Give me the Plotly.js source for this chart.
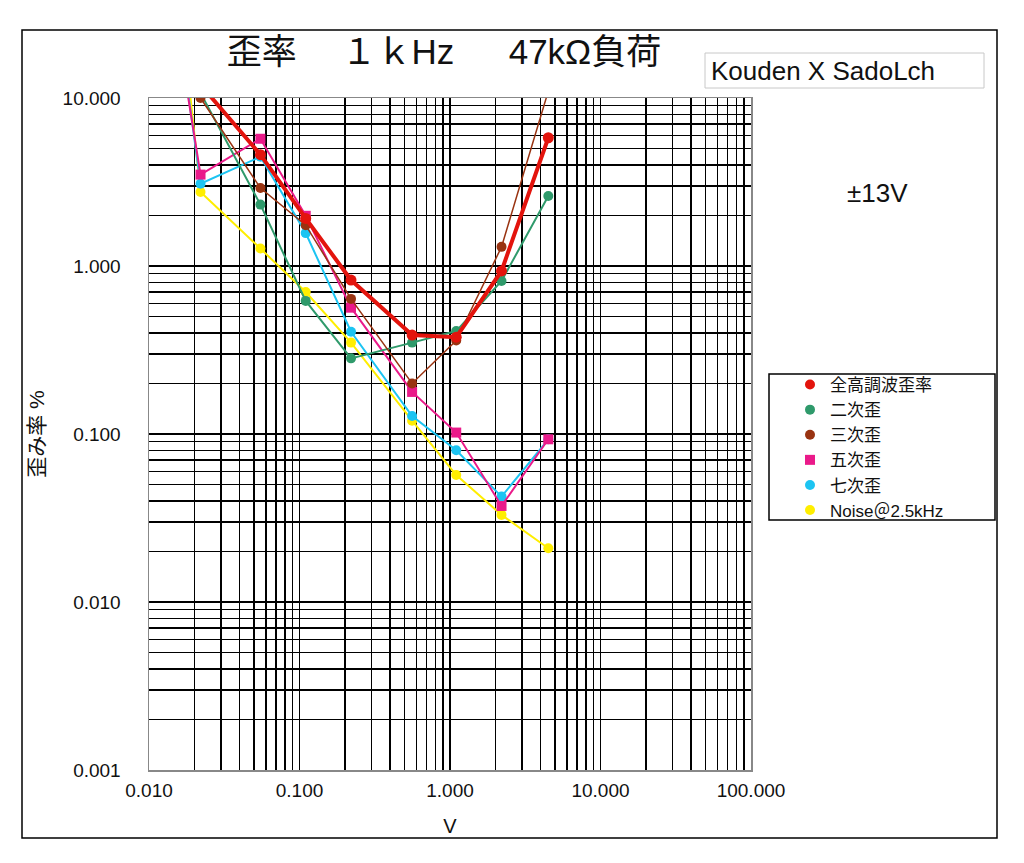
<!DOCTYPE html>
<html>
<head>
<meta charset="utf-8">
<script src="https://cdn.plot.ly/plotly-3.0.1.min.js"></script>
<style>
html,body{margin:0;padding:0;background:#fff;}
#chart{width:1024px;height:863px;}
</style>
</head>
<body>
<div id="chart"></div>
<script>
// ---- data ----
const voltage = [0.011, 0.022, 0.055, 0.11, 0.22, 0.56, 1.1, 2.2, 4.5];
const thd      = [null, 12.0, 4.60, 1.92, 0.825, 0.388, 0.377, 0.934, 5.80];
const second   = [null, 10.7, 2.32, 0.62, 0.282, 0.350, 0.410, 0.814, 2.61];
const third    = [null, 10.0, 2.91, 1.75, 0.637, 0.200, 0.360, 1.30, 11.0];
const fifth    = [170, 3.50, 5.72, 1.99, 0.565, 0.178, 0.102, 0.0373, 0.093];
const seventh  = [290, 3.09, 4.47, 1.57, 0.406, 0.128, 0.080, 0.0424, 0.093];
const noise    = [950, 2.76, 1.27, 0.70, 0.350, 0.120, 0.057, 0.033, 0.0209];

const seriesNames = ['全高調波歪率', '二次歪', '三次歪', '五次歪', '七次歪', 'Noise＠2.5kHz'];
const seriesColors = ['#e3140d', '#2f9a6b', '#993311', '#ea1a8a', '#1cc4f2', '#ffee00'];

const xTickVals = [0.01, 0.1, 1, 10, 100];
const xTickText = ['0.010', '0.100', '1.000', '10.000', '100.000'];
const yTickVals = [0.001, 0.01, 0.1, 1, 10];
const yTickText = ['0.001', '0.010', '0.100', '1.000', '10.000'];

const titleText = '歪率　\u00a0１ｋHz　\u00a0\u00a047kΩ負荷';
const xTitle = 'V';
const yTitle = '歪み率 %';
const boxText = 'Kouden X SadoLch';
const supplyText = '±13V';

// minor grid positions (2..9 in each decade)
function minorVals(lo, hi) {
  const out = [];
  for (let e = lo; e < hi; e++) {
    for (let m = 2; m <= 9; m++) out.push(m * Math.pow(10, e));
  }
  return out;
}

const FONT = 'Liberation Sans, Arial, "Noto Sans CJK JP", sans-serif';

const values = [thd, second, third, fifth, seventh, noise];
const widths = [4, 2, 1.5, 2, 2, 2];
const symbols = ['circle', 'circle', 'circle', 'square', 'circle', 'circle'];
const sizes = [11, 10, 10, 10, 10, 10];

// drawing order: yellow, cyan, pink, green, brown, red (red on top)
const drawOrder = [5, 4, 3, 1, 2, 0];
const traces = [];
drawOrder.forEach(i => {
  traces.push({
    x: voltage, y: values[i], type: 'scatter', mode: 'lines+markers',
    name: seriesNames[i], showlegend: false,
    line: {color: seriesColors[i], width: widths[i]},
    marker: {color: seriesColors[i], size: sizes[i], symbol: symbols[i]},
    connectgaps: false
  });
});
// legend entries (marker only, as in the reference)
for (let i = 0; i < seriesNames.length; i++) {
  traces.push({
    x: [null], y: [null], type: 'scatter', mode: 'markers',
    name: seriesNames[i], showlegend: true,
    marker: {color: seriesColors[i], size: 10, symbol: symbols[i]}
  });
}

// pixel -> paper helpers (plot area: x 149..751, y 98..770)
const L = 149, R = 751, T = 98, B = 770;
const px = v => (v - L) / (R - L);
const py = v => (B - v) / (B - T);

const layout = {
  width: 1024, height: 863,
  margin: {l: L, r: 1024 - R, t: T, b: 863 - B, pad: 0},
  paper_bgcolor: '#fff', plot_bgcolor: '#fff',
  font: {family: FONT, color: '#000'},
  title: {
    text: titleText, font: {size: 35, family: FONT, color: '#111'},
    x: 444 / 1024, xanchor: 'center', y: 1 - 52 / 863, yanchor: 'middle'
  },
  xaxis: {
    type: 'log', range: [-2, 2], autorange: false,
    tickmode: 'array', tickvals: xTickVals, ticktext: xTickText,
    tickfont: {size: 19, family: FONT, color: '#111'},
    ticklabelstandoff: 3,
    showgrid: true, gridcolor: '#000', gridwidth: 1.4,
    minor: {tickmode: 'array', tickvals: minorVals(-2, 2), showgrid: true, gridcolor: '#000', gridwidth: 1.4, ticks: ''},
    showline: true, linecolor: '#888', linewidth: 1.5, mirror: true,
    zeroline: false, ticks: '',
    title: {text: xTitle, font: {size: 20, family: FONT, color: '#111'}, standoff: 18}
  },
  yaxis: {
    type: 'log', range: [-3, 1], autorange: false,
    tickmode: 'array', tickvals: yTickVals, ticktext: yTickText,
    tickfont: {size: 19, family: FONT, color: '#111'},
    ticklabelstandoff: 23,
    showgrid: true, gridcolor: '#000', gridwidth: 1.4,
    minor: {tickmode: 'array', tickvals: minorVals(-3, 1), showgrid: true, gridcolor: '#000', gridwidth: 1.4, ticks: ''},
    showline: true, linecolor: '#888', linewidth: 1.5, mirror: true,
    zeroline: false, ticks: '',
    title: {text: yTitle, font: {size: 21, family: FONT, color: '#111'}, standoff: 12}
  },
  legend: {
    x: px(790), y: py(367), xanchor: 'left', yanchor: 'top',
    bgcolor: 'rgba(0,0,0,0)', borderwidth: 0,
    font: {size: 17, family: FONT, color: '#111'},
    itemwidth: 30, tracegroupgap: 0
  },
  shapes: [
    {type: 'rect', xref: 'paper', yref: 'paper', x0: px(22), x1: px(997), y0: py(838), y1: py(30),
     line: {color: '#000', width: 1.5}, fillcolor: 'rgba(0,0,0,0)', layer: 'below'},
    {type: 'rect', xref: 'paper', yref: 'paper', x0: px(705), x1: px(984), y0: py(88), y1: py(53),
     line: {color: '#c8c8c8', width: 1}, fillcolor: 'rgba(0,0,0,0)'},
    {type: 'rect', xref: 'paper', yref: 'paper', x0: px(769), x1: px(995), y0: py(520), y1: py(374),
     line: {color: '#000', width: 1.5}, fillcolor: 'rgba(0,0,0,0)'}
  ],
  annotations: [
    {text: boxText, xref: 'paper', yref: 'paper', x: px(709), y: py(71), xanchor: 'left', yanchor: 'middle',
     showarrow: false, font: {size: 26, family: FONT, color: '#111'}},
    {text: supplyText, xref: 'paper', yref: 'paper', x: px(877), y: py(193), xanchor: 'center', yanchor: 'middle',
     showarrow: false, font: {size: 26, family: FONT, color: '#111'}}
  ]
};

Plotly.newPlot('chart', traces, layout, {staticPlot: true, displayModeBar: false});
</script>
</body>
</html>
